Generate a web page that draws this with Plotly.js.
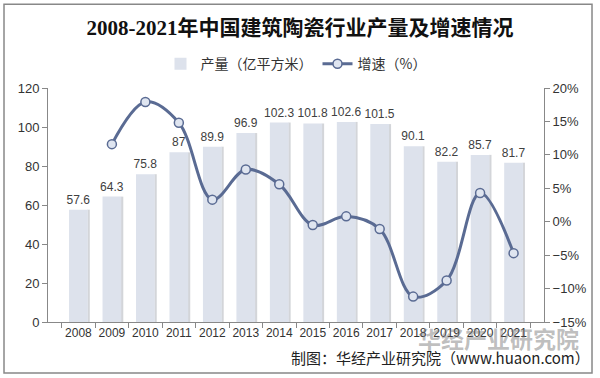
<!DOCTYPE html>
<html><head><meta charset="utf-8">
<script src="https://cdn.plot.ly/plotly-3.0.1.min.js"></script>
<style>html,body{margin:0;padding:0;background:#fff}#c{width:600px;height:378px}</style>
</head><body><div id="c"></div>
<script>
const years = ['2008','2009','2010','2011','2012','2013','2014','2015','2016','2017','2018','2019','2020','2021'];
const output = [57.6,64.3,75.8,87,89.9,96.9,102.3,101.8,102.6,101.5,90.1,82.2,85.7,81.7];
const growth = [null,11.6,17.9,14.8,3.3,7.8,5.6,-0.5,0.8,-1.1,-11.2,-8.8,4.3,-4.7];
const outputLabels = ['57.6','64.3','75.8','87','89.9','96.9','102.3','101.8','102.6','101.5','90.1','82.2','85.7','81.7'];

const font = 'Liberation Sans, Arial, Noto Sans CJK SC, sans-serif';
const cjk = 'Noto Sans CJK SC, Liberation Sans, sans-serif';

const traces = [
  {
    type:'bar', x:years, y:output, name:'shadow', showlegend:false,
    marker:{color:'rgba(130,135,145,0.35)', line:{width:0}},
    offset:0.27, width:0.07, hoverinfo:'skip'
  },
  {
    type:'bar', x:years, y:output, name:'产量（亿平方米）',
    marker:{color:'#dde2ec', line:{width:0}},
    offset:-0.28, width:0.56,
    text:outputLabels, textposition:'outside', cliponaxis:false, constraintext:'none',
    textfont:{family:font, size:12, color:'#404040'},
    hoverinfo:'skip'
  },
  {
    type:'scatter', mode:'lines+markers', x:years, y:growth, yaxis:'y2', name:'增速（%）',
    line:{color:'#5a6b93', width:3, shape:'spline', smoothing:1},
    marker:{size:9, color:'#dfe5f0', line:{color:'#5a6b93', width:1.5}},
    connectgaps:false
  }
];

const layout = {
  width:600, height:378,
  margin:{l:48, r:56, t:88, b:56},
  paper_bgcolor:'#ffffff', plot_bgcolor:'#ffffff',
  barmode:'overlay',
  title:{text:'2008-2021年中国建筑陶瓷行业产量及增速情况', x:0.5, xanchor:'center', y:0.926, yref:'container', yanchor:'middle',
    font:{family:'Liberation Serif, Noto Sans CJK SC, serif', size:21, color:'#111', weight:'bold'}},
  showlegend:true,
  legend:{orientation:'h', x:0.5, xanchor:'center', y:1.17, yanchor:'top',
    font:{family:cjk, size:14, color:'#333'}, bgcolor:'rgba(0,0,0,0)'},
  xaxis:{type:'category', showgrid:false, showline:true, linecolor:'#888', linewidth:1,
    ticks:'outside', ticklen:5, tickcolor:'#888', tickson:'boundaries', tickangle:0,
    tickfont:{family:font, size:12, color:'#333'}, fixedrange:true},
  yaxis:{range:[0,120], dtick:20, showgrid:false, showline:true, linecolor:'#888', linewidth:1,
    ticks:'outside', ticklen:5, tickcolor:'#888', zeroline:false,
    tickfont:{family:font, size:13, color:'#333'}},
  yaxis2:{range:[-15,20], dtick:5, overlaying:'y', side:'right', showgrid:false, showline:true,
    linecolor:'#888', linewidth:1, ticks:'outside', ticklen:5, tickcolor:'#888', zeroline:false,
    ticksuffix:'%', tickfont:{family:font, size:13, color:'#333'}},
  shapes:[{type:'rect', xref:'paper', yref:'paper', x0:-0.0887, x1:1.0968, y0:-0.218, y1:1.358,
    line:{color:'#888', width:1.5}, fillcolor:'rgba(0,0,0,0)'}],
  annotations:[
    {text:'华经产业研究院', xref:'paper', yref:'paper', x:1.075, y:-0.07, xanchor:'right', yanchor:'middle',
      showarrow:false, font:{family:cjk, size:23, color:'rgba(110,110,110,0.45)', weight:'bold'}},
    {text:'制图：华经产业研究院（www.huaon.com）', xref:'paper', yref:'paper', x:1.097, y:-0.153, xanchor:'right', yanchor:'middle',
      showarrow:false, font:{family:cjk, size:15, color:'#222'}}
  ]
};

Plotly.newPlot('c', traces, layout, {displayModeBar:false, staticPlot:true});
</script></body></html>
